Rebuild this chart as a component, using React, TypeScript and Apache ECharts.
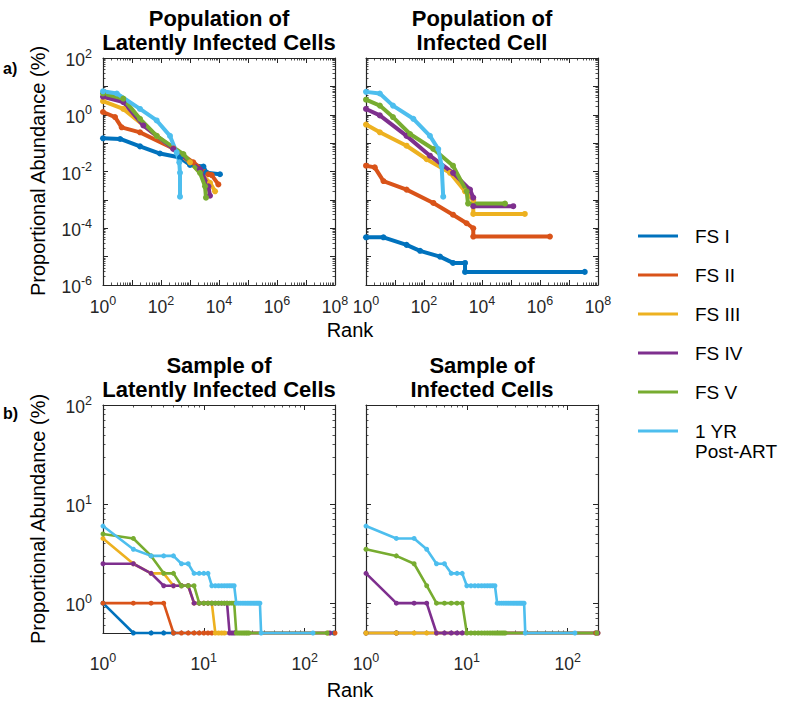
import React, { useEffect, useRef } from 'react';
import * as echarts from 'echarts';

const FONT = '"Liberation Sans", Arial, Helvetica, sans-serif';
const AX = '#262626';

const seriesNames = ['FS I', 'FS II', 'FS III', 'FS IV', 'FS V', '1 YR\nPost-ART'];
const seriesColors = ['#0072BD', '#D95319', '#EDB120', '#7E2F8E', '#77AC30', '#4DBEEE'];

const panelTitles = [
  ['Population of', 'Latently Infected Cells'],
  ['Population of', 'Infected Cell'],
  ['Sample of', 'Latently Infected Cells'],
  ['Sample of', 'Infected Cells'],
];

// tick label exponents (10^k)
const popXTicks = [0, 2, 4, 6, 8];
const popYTicks = [-6, -4, -2, 0, 2];
const sampXTicks = [0, 1, 2];
const sampYTicks = [0, 1, 2];

// a) Population of latently infected cells: [rank, abundance %]
const popLatentFS1 = [[1, 0.148], [3.9, 0.14], [18.9, 0.077], [92, 0.043], [452, 0.031], [1000, 0.017], [2900, 0.015], [3700, 0.0091], [10800, 0.008]];
const popLatentFS2 = [[1, 1.25], [2.6, 0.83], [4.4, 0.36], [18.9, 0.24], [266, 0.065], [1300, 0.021], [4300, 0.008], [5600, 0.0075], [9500, 0.0035]];
const popLatentFS3 = [[1, 3.0], [5, 1.6], [71, 0.18], [1000, 0.021], [4900, 0.004], [7300, 0.002]];
const popLatentFS4 = [[1, 4.3], [5, 2.8], [24.6, 0.42], [266, 0.062], [2200, 0.012], [4300, 0.003], [4900, 0.0014]];
const popLatentFS5 = [[1, 5.6], [5, 3.7], [18.9, 0.72], [71, 0.18], [590, 0.041], [2200, 0.009], [3300, 0.003], [3560, 0.0012]];
const popLatentYR1 = [[1, 6.7], [3, 5.6], [18.9, 1.6], [71, 0.63], [204, 0.18], [347, 0.047], [427, 0.021], [452, 0.009], [452, 0.0013]];

// a) Population of infected cells
const popInfFS1 = [[1, 4.8e-5], [4, 4.8e-5], [25, 2.6e-5], [73, 1.6e-5], [355, 1.0e-5], [1000, 6e-6], [2600, 6e-6], [2600, 2.9e-6], [3.5e7, 2.9e-6]];
const popInfFS2 = [[1, 0.016], [2, 0.014], [4, 0.0046], [25, 0.0023], [210, 7.8e-4], [1000, 3.0e-4], [2950, 1.5e-4], [5000, 1e-4], [5000, 5.1e-5], [2.2e6, 5.1e-5]];
const popInfFS3 = [[1, 0.45], [3, 0.24], [25, 0.081], [124, 0.027], [790, 0.009], [2600, 0.002], [5000, 0.001], [5000, 3.2e-4], [3e5, 3.2e-4]];
const popInfFS4 = [[1, 1.6], [3, 0.95], [25, 0.18], [160, 0.036], [1000, 0.009], [3850, 0.0023], [5000, 0.0012], [5000, 6e-4], [1.2e5, 6e-4]];
const popInfFS5 = [[1, 3.4], [3, 2.1], [8.5, 0.83], [33, 0.21], [210, 0.062], [1000, 0.016], [2950, 0.002], [3300, 7.4e-4], [6.2e4, 7.4e-4]];
const popInfYR1 = [[1, 6.4], [3, 5.6], [8.5, 2.1], [43, 0.72], [160, 0.18], [310, 0.062], [405, 0.016], [460, 0.0013]];

// b) Sample of latently infected cells: abundance % at rank 1, 2, 3 ...
const sampLatentFS1 = [1.0, 0.5, 0.5, 0.5, 0.5];
const sampLatentFS2 = [1.0, 1.0, 1.0, 1.0, 0.5, 0.5, 0.5, 0.5, 0.5, 0.5, 0.5, 0.5];
const sampLatentFS3 = [4.5, 2.5, 2.0, 2.0, 1.5, 1.5, 1.5, 1.0, 1.0, 1.0, 1.0, 1.0, 0.5, 0.5, 0.5, 0.5];
const sampLatentFS4 = [2.5, 2.5, 2.0, 1.5, 1.5, 1.5, 1.5, 1.0, 1.0, 1.0, 1.0, 1.0, 1.0, 1.0, 1.0, 1.0, 1.0, 0.5, 0.5, 0.5];
const sampLatentFS5 = [5.0, 4.5, 3.0, 2.0, 2.0, 1.5, 1.5, 1.5, 1.0, 1.0, 1.0, 1.0, 1.0, 1.0, 1.0, 1.0, 1.0, 1.0, 1.0, 1.0, 0.5, 0.5, 0.5, 0.5, 0.5, 0.5, 0.5, 0.5];
const sampLatentYR1 = [6.0, 3.5, 3.0, 3.0, 3.0, 2.5, 2.5, 2.0, 2.0, 2.0, 2.0, 1.5, 1.5, 1.5, 1.5, 1.5, 1.5, 1.5, 1.5, 1.5, 1.0, 1.0, 1.0, 1.0, 1.0, 1.0, 1.0, 1.0, 1.0, 1.0, 1.0, 1.0, 1.0, 1.0, 1.0, 1.0, 0.5];
const sampLatentLastRank = [195, 200, 171, 178, 167, 121];

// b) Sample of infected cells
const sampInfFS1 = [0.5, 0.5];
const sampInfFS2 = [0.5, 0.5];
const sampInfFS3 = [0.5, 0.5, 0.5, 0.5, 0.5];
const sampInfFS4 = [2.0, 1.0, 1.0, 1.0, 0.5, 0.5, 0.5, 0.5, 0.5];
const sampInfFS5 = [3.5, 3.0, 2.5, 1.5, 1.0, 1.0, 1.0, 1.0, 1.0, 0.5, 0.5, 0.5, 0.5, 0.5, 0.5, 0.5, 0.5, 0.5, 0.5, 0.5, 0.5, 0.5, 0.5, 0.5];
const sampInfYR1 = [6.0, 4.5, 4.5, 3.5, 2.5, 2.5, 2.0, 2.0, 2.0, 1.5, 1.5, 1.5, 1.5, 1.5, 1.5, 1.5, 1.5, 1.5, 1.5, 1.0, 1.0, 1.0, 1.0, 1.0, 1.0, 1.0, 1.0, 1.0, 1.0, 1.0, 1.0, 1.0, 1.0, 1.0, 1.0, 1.0, 1.0, 0.5];
const sampInfLastRank = [190, 190, 200, 200, 195, 118];

const SAMPLE_FLOOR = 0.5;

const popLatent = [popLatentFS1, popLatentFS2, popLatentFS3, popLatentFS4, popLatentFS5, popLatentYR1];
const popInf = [popInfFS1, popInfFS2, popInfFS3, popInfFS4, popInfFS5, popInfYR1];
const sampLatent = [sampLatentFS1, sampLatentFS2, sampLatentFS3, sampLatentFS4, sampLatentFS5, sampLatentYR1];
const sampInf = [sampInfFS1, sampInfFS2, sampInfFS3, sampInfFS4, sampInfFS5, sampInfYR1];

function rankSeries(vals: number[], last: number) {
  const pts: number[][] = vals.map((v, i) => [i + 1, v]);
  pts.push([last, SAMPLE_FLOOR]);
  return pts;
}

function supLabel(v: number, shown: number[]) {
  const e = Math.log10(v);
  const r = Math.round(e);
  if (Math.abs(e - r) > 1e-6 || !shown.includes(r)) return '';
  return `{b|10}{s|${r}}`;
}

const rich = {
  b: { fontSize: 17.5, lineHeight: 22, verticalAlign: 'bottom', color: AX, fontFamily: FONT },
  s: { fontSize: 12.5, lineHeight: 10, verticalAlign: 'top', color: AX, fontFamily: FONT },
};

const grids = [
  { left: 103, top: 58, width: 232, height: 227 },
  { left: 366, top: 58, width: 232, height: 227 },
  { left: 103, top: 405, width: 232, height: 228 },
  { left: 366, top: 405, width: 232, height: 228 },
];

function axisCommon(g: number, min: number, max: number, position: string) {
  return {
    type: 'log',
    logBase: 10,
    gridIndex: g,
    min,
    max,
    position,
    axisLine: { show: true, onZero: false, lineStyle: { color: AX, width: 1.2 } },
    axisTick: { show: true, inside: true, length: 5, lineStyle: { color: AX, width: 1 } },
    minorTick: { show: true, splitNumber: 9, length: 2.5, lineStyle: { color: AX, width: 0.8 } },
    splitLine: { show: false },
    minorSplitLine: { show: false },
  };
}

export default function App() {
  const ref = useRef<HTMLDivElement>(null);
  useEffect(() => {
    if (!ref.current) return;
    const chart = echarts.init(ref.current, undefined, { renderer: 'svg' });

    const xAxis: any[] = [];
    const yAxis: any[] = [];
    grids.forEach((_, g) => {
      const isPop = g < 2;
      const xmin = 1;
      const xmax = isPop ? 1e8 : 200;
      const ymin = isPop ? 1e-6 : 0.5;
      const ymax = 100;
      const xTicks = isPop ? popXTicks : sampXTicks;
      const yTicks = isPop ? popYTicks : sampYTicks;
      xAxis.push({
        ...axisCommon(g, xmin, xmax, 'bottom'),
        axisLabel: {
          show: true,
          margin: isPop ? 9 : 18,
          showMinLabel: true,
          showMaxLabel: true,
          hideOverlap: false,
          formatter: (v: number) => supLabel(v, xTicks),
          rich,
        },
      });
      xAxis.push({ ...axisCommon(g, xmin, xmax, 'top'), axisLabel: { show: false } });
      yAxis.push({
        ...axisCommon(g, ymin, ymax, 'left'),
        axisLabel: {
          show: g % 2 === 0,
          margin: 11,
          showMinLabel: true,
          showMaxLabel: true,
          hideOverlap: false,
          formatter: (v: number) => supLabel(v, yTicks),
          rich,
        },
      });
      yAxis.push({ ...axisCommon(g, ymin, ymax, 'right'), axisLabel: { show: false } });
    });

    const series: any[] = [];
    const panelData = [
      popLatent,
      popInf,
      sampLatent.map((v, i) => rankSeries(v, sampLatentLastRank[i])),
      sampInf.map((v, i) => rankSeries(v, sampInfLastRank[i])),
    ];
    panelData.forEach((sets, g) => {
      sets.forEach((data, i) => {
        series.push({
          type: 'line',
          name: seriesNames[i],
          xAxisIndex: 2 * g,
          yAxisIndex: 2 * g,
          data,
          color: seriesColors[i],
          lineStyle: { color: seriesColors[i], width: g < 2 ? 4 : 2.6 },
          itemStyle: { color: seriesColors[i] },
          symbol: 'circle',
          symbolSize: g < 2 ? 6 : 5,
          showSymbol: true,
          showAllSymbol: true,
          clip: false,
          emphasis: { disabled: true },
        });
      });
    });

    const graphic: any[] = [];
    const txt = (text: string, x: number, y: number, fontSize: number, bold = false, align = 'center', rotation = 0) => ({
      type: 'text',
      x,
      y,
      rotation,
      style: {
        text,
        fontSize,
        fontWeight: bold ? 'bold' : 'normal',
        fontFamily: FONT,
        fill: '#000',
        align,
        verticalAlign: 'middle',
        textAlign: align,
        textVerticalAlign: 'middle',
      },
    });
    grids.forEach((gr, g) => {
      const cx = gr.left + gr.width / 2;
      const base = gr.top;
      graphic.push(txt(panelTitles[g][0], cx, base - 40, 22, true));
      graphic.push(txt(panelTitles[g][1], cx, base - 16, 22, true));
    });
    graphic.push(txt('Proportional Abundance (%)', 38, 171, 20, false, 'center', Math.PI / 2));
    graphic.push(txt('Proportional Abundance (%)', 38, 519, 20, false, 'center', Math.PI / 2));
    graphic.push(txt('Rank', 350, 330, 20));
    graphic.push(txt('Rank', 350, 690, 20));
    graphic.push(txt('a)', 3, 68, 16, true, 'left'));
    graphic.push(txt('b)', 3, 413, 16, true, 'left'));
    // second line of the last legend entry
    graphic.push(txt(seriesNames[5].split('\n')[1], 695, 451, 19, false, 'left'));

    chart.setOption({
      animation: false,
      grid: grids,
      xAxis,
      yAxis,
      series,
      graphic,
      legend: {
        orient: 'vertical',
        left: 638,
        top: 226,
        padding: 0,
        itemWidth: 40,
        itemHeight: 3,
        itemGap: 19,
        icon: 'rect',
        selectedMode: false,
        formatter: (name: string) => name.split('\n')[0],
        textStyle: { fontSize: 19, lineHeight: 20, fontFamily: FONT, color: '#000', padding: [0, 0, 0, 12] },
        data: seriesNames,
      },
    });
    return () => chart.dispose();
  }, []);
  return <div ref={ref} style={{ position: 'absolute', left: 0, top: 0, width: 790, height: 703 }} />;
}
